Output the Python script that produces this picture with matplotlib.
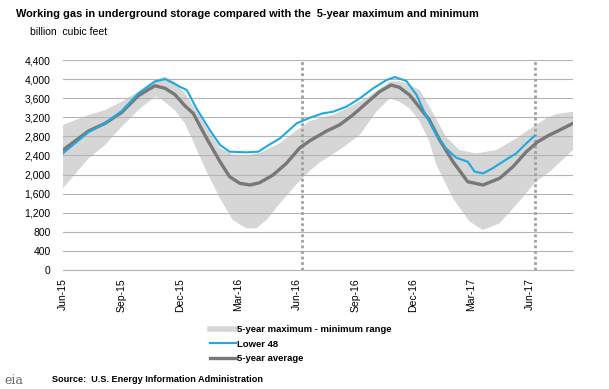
import matplotlib
matplotlib.use("Agg")
import matplotlib.pyplot as plt
import matplotlib.dates as mdates
from matplotlib.lines import Line2D
import numpy as np

plt.rcParams['font.family'] = ['Liberation Sans', 'DejaVu Sans']

# ---- data (billion cubic feet) ----
lower48_dates = ["2015-06-01", "2015-07-11", "2015-08-06", "2015-09-01", "2015-09-27", "2015-10-23",
                 "2015-11-08", "2015-11-23", "2015-12-01", "2015-12-12", "2015-12-27", "2016-01-17",
                 "2016-02-02", "2016-02-17", "2016-03-14", "2016-04-02", "2016-04-20", "2016-05-06",
                 "2016-06-01", "2016-06-22", "2016-07-12", "2016-07-28", "2016-08-18", "2016-09-08",
                 "2016-09-29", "2016-10-20", "2016-11-02", "2016-11-20", "2016-12-06", "2016-12-19",
                 "2017-01-06", "2017-01-21", "2017-02-06", "2017-02-24", "2017-03-07", "2017-03-20",
                 "2017-04-04", "2017-04-20", "2017-05-11", "2017-05-27", "2017-06-09"]
lower48_values = [2445, 2890, 3073, 3331, 3701, 3950, 4001, 3900, 3841, 3771, 3387, 2933,
                  2619, 2479, 2465, 2479, 2633, 2759, 3073, 3191, 3282, 3317, 3422, 3597,
                  3806, 3981, 4043, 3960, 3666, 3282, 2828, 2549, 2353, 2269, 2060, 2025,
                  2130, 2269, 2444, 2654, 2814]

avg_dates = ["2015-06-01", "2015-07-11", "2015-08-06", "2015-09-01", "2015-09-27", "2015-10-23",
             "2015-11-08", "2015-11-23", "2015-12-01", "2015-12-09", "2015-12-22", "2016-01-12",
             "2016-02-02", "2016-02-17", "2016-03-04", "2016-03-20", "2016-04-04", "2016-04-25",
             "2016-05-16", "2016-06-06", "2016-06-22", "2016-07-18", "2016-08-07", "2016-08-28",
             "2016-09-18", "2016-10-09", "2016-10-27", "2016-11-09", "2016-11-25", "2016-12-11",
             "2016-12-26", "2017-01-11", "2017-02-01", "2017-02-24", "2017-03-20", "2017-04-15",
             "2017-05-06", "2017-05-27", "2017-06-14", "2017-07-02", "2017-07-13", "2017-08-08"]
avg_values = [2514, 2912, 3073, 3303, 3652, 3861, 3806, 3680, 3562, 3440, 3282, 2759,
              2269, 1955, 1816, 1781, 1829, 1990, 2235, 2560, 2710, 2912, 3038, 3247,
              3492, 3736, 3876, 3827, 3666, 3400, 3143, 2724, 2269, 1850, 1781, 1921,
              2165, 2479, 2689, 2828, 2898, 3073]

max_dates = ["2015-06-01", "2015-07-11", "2015-08-06", "2015-09-01", "2015-09-27", "2015-10-23",
             "2015-11-08", "2015-11-23", "2015-12-09", "2015-12-27", "2016-01-17", "2016-02-02",
             "2016-02-22", "2016-03-14", "2016-04-04", "2016-05-06", "2016-06-01", "2016-06-22",
             "2016-07-12", "2016-07-28", "2016-08-18", "2016-09-18", "2016-10-09", "2016-10-25",
             "2016-11-09", "2016-11-25", "2016-12-11", "2016-12-26", "2017-01-21", "2017-02-11",
             "2017-03-09", "2017-04-10", "2017-05-11", "2017-06-11", "2017-06-27", "2017-07-13",
             "2017-08-08"]
max_values = [3038, 3247, 3352, 3527, 3736, 3981, 4050, 3946, 3700, 3330, 2880, 2555,
              2420, 2400, 2450, 2660, 2930, 3120, 3200, 3250, 3380, 3597, 3800, 3946,
              3960, 3876, 3771, 3420, 2794, 2514, 2444, 2514, 2759, 3038, 3178, 3268, 3317]

min_dates = ["2015-06-01", "2015-07-11", "2015-08-06", "2015-09-01", "2015-09-27", "2015-10-23",
             "2015-10-31", "2015-11-23", "2015-12-09", "2015-12-22", "2016-01-12", "2016-02-02",
             "2016-02-22", "2016-03-14", "2016-03-30", "2016-04-15", "2016-05-06", "2016-06-01",
             "2016-06-22", "2016-07-07", "2016-08-07", "2016-09-08", "2016-10-04", "2016-10-25",
             "2016-11-09", "2016-11-25", "2016-12-11", "2016-12-26", "2017-01-06", "2017-02-01",
             "2017-02-27", "2017-03-20", "2017-04-15", "2017-05-11", "2017-06-11", "2017-07-02",
             "2017-08-08"]
min_values = [1711, 2340, 2619, 3003, 3352, 3631, 3600, 3352, 3073, 2689, 2060, 1502,
              1048, 873, 873, 1050, 1400, 1800, 2080, 2250, 2514, 2830, 3317, 3597,
              3527, 3387, 3108, 2689, 2200, 1502, 1013, 838, 978, 1362, 1850, 2050, 2514]

report_marks = ["2016-06-10", "2017-06-09"]

tick_dates = ["2015-06-01", "2015-09-01", "2015-12-01", "2016-03-01", "2016-06-01",
              "2016-09-01", "2016-12-01", "2017-03-01", "2017-06-01"]
tick_labels = ["Jun-15", "Sep-15", "Dec-15", "Mar-16", "Jun-16", "Sep-16", "Dec-16", "Mar-17", "Jun-17"]
y_ticks = list(range(0, 4401, 400))

title = "Working gas in underground storage compared with the  5-year maximum and minimum"
unit_label = "billion  cubic feet"
source = "Source:  U.S. Energy Information Administration"


def d(lst):
    return mdates.date2num(np.array(lst, dtype="datetime64[D]"))


W, H = 609, 389
fig = plt.figure(figsize=(W / 100, H / 100), dpi=100)
L, R, T, B = 63, 573, 60, 270
ax = fig.add_axes([L / W, 1 - B / H, (R - L) / W, (B - T) / H])

band_color = "#d6d6d6"
blue = "#1eaadf"
gray = "#787878"

poly_x = np.concatenate([d(max_dates), d(min_dates)[::-1]])
poly_y = np.concatenate([max_values, min_values[::-1]])
band = ax.fill(poly_x, poly_y, color=band_color, lw=0, zorder=1)[0]

ax.set_axisbelow('line')
ax.yaxis.grid(True, color="#b4b4b4", lw=0.8)

for m in d(report_marks):
    ax.axvline(m, color="#a0a0a0", lw=2.0, ls=(0, (1, 1)), zorder=2)

avg_line, = ax.plot(d(avg_dates), avg_values, color=gray, lw=2.4, zorder=3,
                    solid_joinstyle='round')
l48_line, = ax.plot(d(lower48_dates), lower48_values, color=blue, lw=1.5, zorder=4,
                    solid_joinstyle='round')

ax.set_ylim(0, 4400)
ax.set_xlim(d(["2015-06-01"])[0], d(["2017-08-08"])[0])
ax.set_yticks(y_ticks)
ax.set_yticklabels([f"{v:,}" for v in y_ticks])
ax.set_xticks(d(tick_dates))
ax.set_xticklabels(tick_labels, rotation=90, va='top', ha='center')
ax.tick_params(axis='both', length=0, labelsize=7.5, colors="#000000")
ax.tick_params(axis='x', pad=6)
ax.tick_params(axis='y', pad=9)

for s in ['top', 'right', 'left']:
    ax.spines[s].set_visible(False)
ax.spines['bottom'].set_color("#b4b4b4")
ax.spines['bottom'].set_linewidth(0.8)

fig.text(16 / W, 1 - 14 / H, title, fontsize=7.9, fontweight='bold', va='center', ha='left')
fig.text(30 / W, 1 - 32 / H, unit_label, fontsize=7.5, va='center', ha='left')

handles = [Line2D([], [], color=band_color, lw=4),
           Line2D([], [], color=blue, lw=1.5),
           Line2D([], [], color=gray, lw=2.4)]
labels = ["5-year maximum - minimum range", "Lower 48", "5-year average"]
fig.legend(handles, labels, loc='upper left', bbox_to_anchor=(210 / W, 1 - 325 / H),
           frameon=False, handlelength=2.7, handletextpad=0.15,
           labelspacing=0.6, borderpad=0, borderaxespad=0,
           prop={'weight': 'bold', 'size': 6.8})

fig.text(4 / W, 1 - 380 / H, "eia", fontsize=9, color="#6a6a6a", family='DejaVu Serif',
         va='center', ha='left')
fig.text(52 / W, 1 - 380 / H, source, fontsize=6.6, fontweight='bold', va='center', ha='left')

fig.savefig("out.png", dpi=100)
